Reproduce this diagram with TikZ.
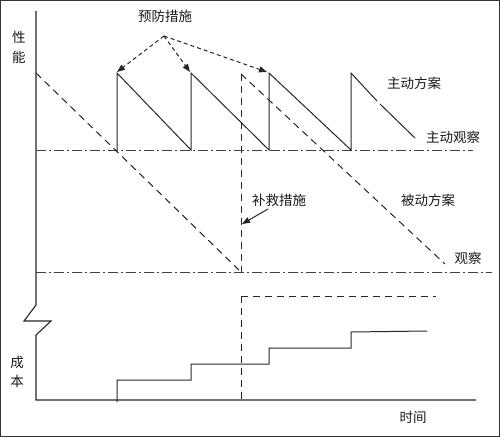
\documentclass[tikz,border=0pt]{standalone}
\usepackage{fontspec}
\newfontfamily\cjk{Noto Sans CJK SC}
\usetikzlibrary{arrows.meta}
\begin{document}
\begin{tikzpicture}[x=1pt,y=-1pt,
  base/.style={line width=1pt, draw=black!85},
  axisline/.style={base, line width=1.1pt},
  passive/.style={base, dash pattern=on 7pt off 5pt},
  thresh/.style={base, draw=black!75, dash pattern=on 10pt off 3pt on 2pt off 3pt},
  lbl/.style={font=\cjk\fontsize{13.5}{20}\selectfont, inner sep=1pt, text=black!90},
  tip/.style={-{Triangle[length=8pt,width=6pt]}}]
\useasboundingbox (0,0) rectangle (500,437);
\draw[line width=1.3pt, draw=black!80] (0.65,0.65) rectangle (499.35,436.35);

% axes
\draw[axisline] (36,11) -- (36,305) -- (24,321) -- (51,321) -- (36,335) -- (36,400) -- (476,400);

% thresholds
\draw[thresh] (36,150) -- (473,150);
\draw[thresh] (36,272) -- (492,272);

% passive scheme
\draw[passive] (36,73) -- (241,272);
\draw[passive] (241,74) -- (241,272);
\draw[passive] (241,74) -- (445,264);
\draw[passive] (241,296) -- (241,400);
\draw[passive] (241,296) -- (436,296);

% active scheme
\draw[base] (117,150) -- (117,73) -- (191,150) -- (191,73) -- (269,150) -- (269,73) -- (351,150) -- (351,73) -- (377,101);
\draw[base] (380,104) -- (415,138);

% cost (active)
\draw[base] (117,402) -- (117,380) -- (191,380) -- (191,364) -- (269,364) -- (269,348) -- (351,348) -- (351,332) -- (427,331);

% labels
\node[lbl, align=center] (perf) at (19,47) {性\\能};
\node[lbl, align=center, font=\cjk\fontsize{13.5}{19}\selectfont] (cost) at (17,372) {成\\本};
\node[lbl] (time) at (413,417) {时间};
\node[lbl] (prev) at (165,16) {预防措施};
\node[lbl] (act) at (414,83) {主动方案};
\node[lbl] (actobs) at (453,137) {主动观察};
\node[lbl] (pas) at (428,200) {被动方案};
\node[lbl] (obs) at (468,258) {观察};
\node[lbl] (rem) at (279,200) {补救措施};

% arrows
\coordinate (src) at (164,36);
\coordinate (t1) at (117,72);
\coordinate (t2) at (190,72);
\coordinate (t3) at (267,72);
\coordinate (t4) at (242,224);
\coordinate (rs) at (268,209);
\draw[base, dash pattern=on 4pt off 3pt, tip] (src) -- (t1);
\draw[base, dash pattern=on 4pt off 3pt, tip] (src) -- (t2);
\draw[base, dash pattern=on 4pt off 3pt, tip] (src) -- (t3);
\draw[base, tip] (rs) -- (t4);
\end{tikzpicture}
\end{document}
